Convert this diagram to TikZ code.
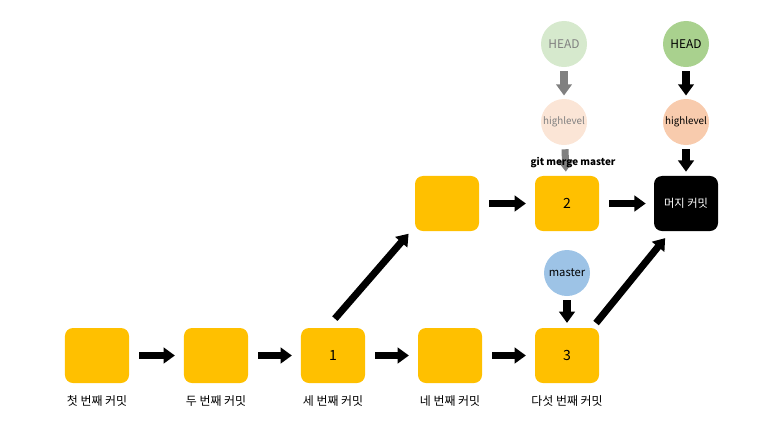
\documentclass[tikz,border=0pt]{standalone}
\usepackage{fontspec}
\setmainfont{Noto Sans CJK KR}
\usepackage{xcolor}
\usetikzlibrary{arrows.meta,positioning,calc}

\definecolor{cmtyel}{HTML}{FFC000}
\definecolor{headgrn}{HTML}{A9D18E}
\definecolor{headpale}{HTML}{D6E9CD}
\definecolor{hlorg}{HTML}{F8CBAD}
\definecolor{hlpale}{HTML}{FBE5D6}
\definecolor{mstblue}{HTML}{9DC3E6}
\definecolor{fadegray}{HTML}{808080}

\begin{document}
\begin{tikzpicture}[
    x=0.025cm, y=-0.025cm,
    cmtnode/.style={
        rectangle, rounded corners=0.2cm, fill=cmtyel,
        minimum width=1.6cm, minimum height=1.375cm,
        font=\fontsize{10}{11}\selectfont, align=center
    },
    mrgnode/.style={
        cmtnode, fill=black, text=white, font=\fontsize{8}{9}\selectfont
    },
    refnode/.style={
        circle, minimum size=1.15cm, inner sep=0pt,
        font=\fontsize{8.5}{9}\selectfont
    },
    hlnode/.style={refnode, font=\fontsize{7}{8}\selectfont},
    lblnode/.style={font=\fontsize{8.5}{10}\selectfont},
    blk/.style={-{Triangle[length=8pt,width=11pt]}, line width=5pt, black},
    blkfade/.style={blk, fadegray}
]
\useasboundingbox (0,0) rectangle (773,435);

% Commits on the main line (bottom row)
\node[cmtnode] (first)  at (97,  355.5) {};
\node[cmtnode] (second) at (216, 355.5) {};
\node[cmtnode] (third)  at (333, 355.5) {1};
\node[cmtnode] (fourth) at (450, 355.5) {};
\node[cmtnode] (fifth)  at (567, 355.5) {3};

\node[lblnode] (l1) at (97,  401) {첫 번째 커밋};
\node[lblnode] (l2) at (216, 401) {두 번째 커밋};
\node[lblnode] (l3) at (333, 401) {세 번째 커밋};
\node[lblnode] (l4) at (450, 401) {네 번째 커밋};
\node[lblnode] (l5) at (567, 401) {다섯 번째 커밋};

% Branch commits (top row)
\node[cmtnode] (side)  at (447, 203.5) {};
\node[cmtnode] (two)   at (567, 203.5) {2};
\node[mrgnode] (merge) at (686, 203.5) {머지 커밋};

% Refs before the merge (faded)
\node[refnode, fill=headpale, text=fadegray] (headold) at (564, 44)  {HEAD};
\node[hlnode, fill=hlpale, text=fadegray]    (hlold)   at (564, 122) {highlevel};

% Refs after the merge
\node[refnode, fill=headgrn] (head)   at (686, 44)  {HEAD};
\node[hlnode, fill=hlorg]    (hl)     at (686, 122) {highlevel};
\node[refnode, fill=mstblue, font=\fontsize{8}{9}\selectfont] (master) at (567, 273) {master};

% Main line
\draw[blk, shorten <=0.25cm, shorten >=0.22cm] (first) -- (second);
\draw[blk, shorten <=0.25cm, shorten >=0.22cm] (second) -- (third);
\draw[blk, shorten <=0.25cm, shorten >=0.22cm] (third) -- (fourth);
\draw[blk, shorten <=0.25cm, shorten >=0.22cm] (fourth) -- (fifth);

% Branch line
\draw[blk, shorten <=0.25cm, shorten >=0.22cm] (side) -- (two);
\draw[blk, shorten <=0.25cm, shorten >=0.2cm] (two) -- (merge);
\draw[blk, shorten <=0.3cm, shorten >=0.08cm]
    ($(third.north)+(-6,0)$) -- ($(side.south west)+(-4,0)$);
\draw[blk, shorten <=0.15cm, shorten >=0.22cm]
    ($(fifth.north east)+(-7,0)$) -- ($(merge.south west)+(17,0)$);

% Ref pointers
\draw[blkfade, shorten <=0.1cm, shorten >=0.08cm] (headold) -- (hlold);
\draw[blkfade, shorten <=0.1cm, shorten >=0.1cm] (hlold) -- (two);
\node[font=\fontsize{7}{8}\selectfont\bfseries] (gitcmd) at (573, 163) {git merge master};
\draw[blk, shorten <=0.1cm, shorten >=0.08cm] (head) -- (hl);
\draw[blk, shorten <=0.1cm, shorten >=0.1cm] (hl) -- (merge);
\draw[blk, shorten <=0.1cm, shorten >=0.12cm] (master) -- (fifth);
\end{tikzpicture}
\end{document}
